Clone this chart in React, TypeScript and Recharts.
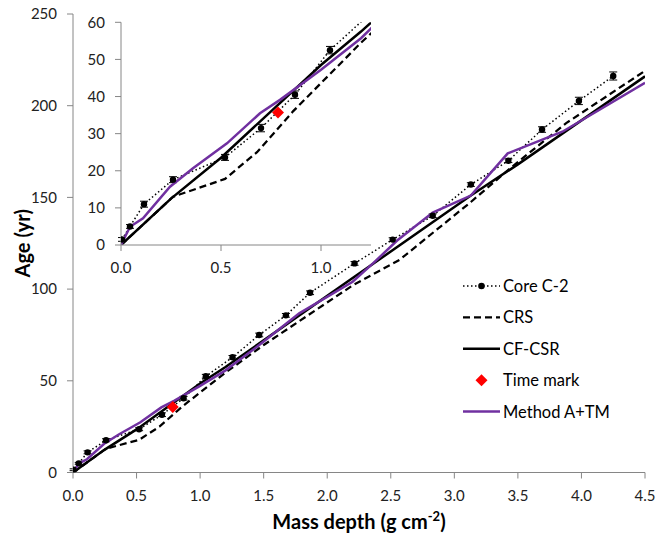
import React from 'react'
import { ComposedChart, Line, Scatter, XAxis, YAxis, ErrorBar } from 'recharts'

// Core C-2 measured ages
const coreDepth = [0.005, 0.045, 0.115, 0.26, 0.52, 0.7, 0.87, 1.045, 1.255, 1.465, 1.675, 1.865, 2.215, 2.515, 2.83, 3.13, 3.425, 3.69, 3.98, 4.25]
const coreAge = [1.5, 5, 11, 17.6, 23.6, 31.5, 40.5, 52.5, 62.8, 75, 85.7, 98, 114, 127, 140, 157, 170, 187, 202.6, 216.2]
const coreErr = [0.5, 0.5, 0.8, 0.8, 0.8, 1, 1, 1, 1, 1, 1, 1, 1, 1, 1, 1, 1, 1.5, 2, 2.2]

// CRS model
const crsDepth = [0, 0.26, 0.52, 0.68, 0.86, 1.2, 1.5, 2.2, 2.57, 3.13, 3.45, 3.88, 4.5]
const crsAge = [0, 13, 17.8, 25, 36, 54.5, 69.5, 102, 116, 147.5, 166.5, 190.5, 219]

// CF-CSR model
const cfDepth = [0, 0.25, 0.5, 0.75, 1.0, 1.2, 2.2, 3.13, 3.5, 4.5]
const cfAge = [0, 12.5, 23.5, 36, 48.5, 57.5, 106, 151, 168, 216]

// Method A+TM
const tmDepth = [0, 0.045, 0.11, 0.245, 0.36, 0.53, 0.695, 0.795, 1.0, 1.2, 1.465, 1.78, 2.2, 2.36, 2.55, 2.83, 3.13, 3.42, 3.85, 4.5]
const tmAge = [0, 4.9, 7.2, 15.7, 20.7, 27.4, 35.5, 39.1, 47.2, 55.7, 69.5, 86.8, 104, 114, 126.5, 141.7, 151, 174, 185.8, 212.5]

// Time mark
const markDepth = [0.785]
const markAge = [35.7]

const mainXTicks = [0, 0.5, 1, 1.5, 2, 2.5, 3, 3.5, 4, 4.5]
const mainYTicks = [0, 50, 100, 150, 200, 250]
const insetXTicks = [0, 0.5, 1]
const insetYTicks = [0, 10, 20, 30, 40, 50, 60]
const insetXMax = 1.25
const insetYMax = 60

const zip = (xs: number[], ys: number[], es?: number[]) =>
  xs.map((x, i) => ({ x, y: ys[i], err: es ? es[i] : 0 }))

const core = zip(coreDepth, coreAge, coreErr)
const coreInset = core.filter((p) => p.x <= insetXMax && p.y <= insetYMax)
const crs = zip(crsDepth, crsAge)
const cf = zip(cfDepth, cfAge)
const tm = zip(tmDepth, tmAge)
const mark = zip(markDepth, markAge)

const FONT = 'Lato, "Open Sans", sans-serif'
const AXIS = '#868686'
const PURPLE = '#7030A0'
const tickStyle = { fontSize: 15, fill: '#222', fontFamily: FONT }

const Diamond = (props: any) => {
  const { cx, cy } = props
  if (cx == null || cy == null) return null
  const s = 6
  return <polygon points={`${cx},${cy - s} ${cx + s},${cy} ${cx},${cy + s} ${cx - s},${cy}`} fill="#FF0000" />
}

const Dot = (props: any) => {
  const { cx, cy } = props
  if (cx == null || cy == null) return null
  return <circle cx={cx} cy={cy} r={3.2} fill="#000" />
}

function models() {
  return [
    <Line key="crs" data={crs} dataKey="y" stroke="#000" strokeWidth={2.25} strokeDasharray="7 4" dot={false} isAnimationActive={false} />,
    <Line key="cf" data={cf} dataKey="y" stroke="#000" strokeWidth={2.5} dot={false} isAnimationActive={false} />,
    <Scatter key="mark" data={mark} dataKey="y" shape={<Diamond />} isAnimationActive={false} />,
    <Line key="tm" data={tm} dataKey="y" stroke={PURPLE} strokeWidth={2.5} dot={false} isAnimationActive={false} />,
  ]
}

const XTitle = (props: any) => {
  const { viewBox } = props
  const cx = viewBox.x + viewBox.width / 2
  return (
    <text x={cx} y={viewBox.y + 56} textAnchor="middle" fontFamily={FONT} fontWeight="bold" fontSize={20} fill="#000">
      Mass depth (g cm<tspan dy={-8} fontSize={13}>-2</tspan><tspan dy={8}>)</tspan>
    </text>
  )
}

const YTitle = (props: any) => {
  const { viewBox } = props
  const cy = viewBox.y + viewBox.height / 2
  const cx = viewBox.x + 22
  return (
    <text x={cx} y={cy} textAnchor="middle" dominantBaseline="central" transform={`rotate(-90 ${cx} ${cy})`}
      fontFamily={FONT} fontWeight="bold" fontSize={20} fill="#000">
      Age (yr)
    </text>
  )
}

const legendRows = [
  { name: 'Core C-2', kind: 'core' },
  { name: 'CRS', kind: 'crs' },
  { name: 'CF-CSR', kind: 'cf' },
  { name: 'Time mark', kind: 'mark' },
  { name: 'Method A+TM', kind: 'tm' },
]

function LegendBox() {
  return (
    <svg width={200} height={170} style={{ position: 'absolute', left: 455, top: 270 }}>
      {legendRows.map((r, i) => {
        const y = 16 + i * 31.4
        return (
          <g key={r.name}>
            {r.kind === 'core' && (
              <g>
                <line x1={8} x2={45} y1={y} y2={y} stroke="#000" strokeWidth={1.5} strokeDasharray="1.5 2.5" />
                <circle cx={26.5} cy={y} r={3.3} fill="#000" />
              </g>
            )}
            {r.kind === 'crs' && <line x1={8} x2={45} y1={y} y2={y} stroke="#000" strokeWidth={2.25} strokeDasharray="7 4" />}
            {r.kind === 'cf' && <line x1={8} x2={45} y1={y} y2={y} stroke="#000" strokeWidth={2.5} />}
            {r.kind === 'mark' && <polygon points={`26.5,${y - 6} 32.5,${y} 26.5,${y + 6} 20.5,${y}`} fill="#FF0000" />}
            {r.kind === 'tm' && <line x1={8} x2={45} y1={y} y2={y} stroke={PURPLE} strokeWidth={2.5} />}
            <text x={48} y={y} dominantBaseline="central" fontFamily={FONT} fontSize={16.5} fill="#000">{r.name}</text>
          </g>
        )
      })}
    </svg>
  )
}

export default function App() {
  return (
    <div style={{ position: 'absolute', left: 0, top: 0, width: 657, height: 534, background: '#fff' }}>
      <div style={{ position: 'absolute', left: 0, top: 0 }}>
        <ComposedChart width={657} height={534} margin={{ top: 14, right: 12, bottom: 31.5, left: 0 }}>
          <XAxis dataKey="x" type="number" domain={[0, 4.5]} ticks={mainXTicks} allowDataOverflow
            tickFormatter={(v: number) => v.toFixed(1)} stroke={AXIS} tickSize={6} tickMargin={12}
            tick={tickStyle} height={30} label={<XTitle />} />
          <YAxis type="number" domain={[0, 250]} ticks={mainYTicks} allowDataOverflow stroke={AXIS}
            tickSize={6} tickMargin={10} tick={tickStyle} width={73} label={<YTitle />} />
          <Line data={core} dataKey="y" stroke="#000" strokeWidth={1.5} strokeDasharray="1.5 2.5"
            dot={<Dot />} isAnimationActive={false}>
            <ErrorBar dataKey="err" direction="y" width={4} stroke="#000" strokeWidth={1} />
          </Line>
          {models()}
        </ComposedChart>
      </div>
      <div style={{ position: 'absolute', left: 60, top: 0 }}>
        <ComposedChart width={320} height={290} margin={{ top: 22.3, right: 9, bottom: 15, left: 0 }}>
          <XAxis dataKey="x" type="number" domain={[0, insetXMax]} ticks={insetXTicks} allowDataOverflow
            tickFormatter={(v: number) => v.toFixed(1)} stroke={AXIS} tickSize={6} tickMargin={11}
            tick={tickStyle} height={30} />
          <YAxis type="number" domain={[0, insetYMax]} ticks={insetYTicks} allowDataOverflow stroke={AXIS}
            tickSize={6} tickMargin={10} tick={tickStyle} width={61} />
          <Line data={core} dataKey="y" stroke="#000" strokeWidth={1.5} strokeDasharray="1.5 2.5"
            dot={false} isAnimationActive={false} />
          <Scatter data={coreInset} dataKey="y" shape={<Dot />} isAnimationActive={false}>
            <ErrorBar dataKey="err" direction="y" width={4} stroke="#000" strokeWidth={1} />
          </Scatter>
          {models()}
        </ComposedChart>
      </div>
      <LegendBox />
    </div>
  )
}
